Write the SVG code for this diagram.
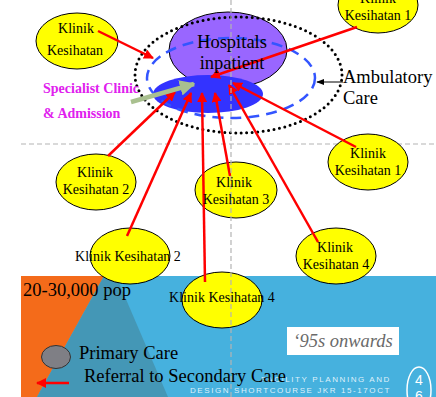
<svg xmlns="http://www.w3.org/2000/svg" width="436" height="397" viewBox="0 0 436 397">
<style>
.serif{font-family:"Liberation Serif","Times New Roman",serif;fill:#000}
.k{font-size:14px;text-anchor:middle}
.big{font-size:18.5px}
.yel{fill:#ffff00;stroke:#000;stroke-width:1}
.red{stroke:#ff0000;stroke-width:2.5;fill:none;marker-end:url(#ra)}
.mag{font-family:"Liberation Serif","Times New Roman",serif;font-weight:bold;font-size:14px;fill:#e020ee}
.foot{font-family:"Liberation Sans",Arial,sans-serif;font-size:8px;fill:#dff0fa;letter-spacing:1.6px}
</style>
<defs>
<marker id="ra" viewBox="0 0 10 10" refX="9" refY="5" markerWidth="4" markerHeight="4" orient="auto" markerUnits="strokeWidth">
<path d="M0,0 L10,5 L0,10 z" fill="#ff0000"/>
</marker>
<marker id="ga" viewBox="0 0 10 10" refX="9" refY="5" markerWidth="3.5" markerHeight="3.5" orient="auto" markerUnits="strokeWidth">
<path d="M0,0 L10,5 L0,10 z" fill="#a9c08f"/>
</marker>
<marker id="ba" viewBox="0 0 10 10" refX="9" refY="5" markerWidth="8" markerHeight="8" orient="auto" markerUnits="strokeWidth">
<path d="M0,1 L10,5 L0,9 z" fill="#000"/>
</marker>
</defs>

<!-- background -->
<rect x="0" y="0" width="436" height="397" fill="#ffffff"/>
<g id="bottom-panel">
<rect x="21" y="276" width="415" height="121" fill="#46b1de"/>
<polygon points="21,276 104,276 37,397 21,397" fill="#f46b1a"/>
<polygon points="104,276 116,276 168,397 37,397" fill="#4497b6"/>
</g>

<line x1="21" y1="144" x2="436" y2="144" stroke="#b4b4b4" stroke-width="1.2" stroke-dasharray="5,3"/>

<g id="hospital">
<ellipse cx="228" cy="50" rx="59" ry="38" fill="#9966ff" stroke="#000" stroke-width="1"/>
</g>
<g id="specialist">
<ellipse cx="208" cy="94" rx="55" ry="19" fill="#3333ff"/>
</g>
<g id="ambulatory">
<ellipse cx="238.5" cy="75" rx="103.5" ry="58" fill="none" stroke="#000" stroke-width="3" stroke-dasharray="0,5.5" stroke-linecap="round"/>
<ellipse cx="231" cy="78" rx="84" ry="40" fill="none" stroke="#3355ff" stroke-width="2.5" stroke-dasharray="11,7"/>
</g>

<g id="k-topleft"><ellipse class="yel" cx="77" cy="41" rx="41" ry="28"/></g>
<g id="k-topright"><ellipse class="yel" cx="378" cy="5" rx="40" ry="28"/></g>
<g id="k1"><ellipse class="yel" cx="368" cy="162" rx="40" ry="28"/></g>
<g id="k2"><ellipse class="yel" cx="96" cy="182" rx="40" ry="28"/></g>
<g id="k3"><ellipse class="yel" cx="236" cy="190" rx="41" ry="28"/></g>
<g id="k4"><ellipse class="yel" cx="336" cy="256" rx="40" ry="28"/></g>
<g id="k2b"><ellipse class="yel" cx="130" cy="256" rx="40" ry="28"/></g>
<g id="k4b"><ellipse class="yel" cx="222" cy="300" rx="40" ry="28"/></g>

<g id="connectors">
<line class="red" x1="98" y1="31" x2="153" y2="58"/>
<line class="red" x1="357" y1="27" x2="211" y2="77"/>
<line class="red" x1="356" y1="147" x2="233" y2="83"/>
<line class="red" x1="318" y1="242" x2="229" y2="85"/>
<line class="red" x1="108" y1="156" x2="175" y2="92"/>
<line class="red" x1="127" y1="236" x2="191" y2="93"/>
<line class="red" x1="205" y1="282" x2="202" y2="93"/>
<line class="red" x1="230" y1="176" x2="215" y2="93"/>
<line x1="131" y1="102" x2="194" y2="84" stroke="#a9c08f" stroke-width="4.5" marker-end="url(#ga)"/>
<line x1="343" y1="82" x2="317" y2="82" stroke="#000" stroke-width="1" marker-end="url(#ba)"/>
<line x1="69" y1="383" x2="37" y2="383" stroke="#ff0000" stroke-width="2.5" marker-end="url(#ra)"/>
</g>

<line x1="231" y1="0" x2="231" y2="397" stroke="#b4b4b4" stroke-width="1.2" stroke-dasharray="5,3"/>

<!-- texts -->
<text class="serif" x="232" y="48" font-size="18.5" text-anchor="middle">Hospitals</text>
<text class="serif" x="232" y="69" font-size="18.5" text-anchor="middle">inpatient</text>
<text class="serif big" x="343" y="83">Ambulatory</text>
<text class="serif big" x="343" y="104">Care</text>
<text class="mag" x="43" y="93">Specialist Clinic</text>
<text class="mag" x="43" y="118">&amp; Admission</text>

<text class="serif k" x="76" y="33">Klinik</text>
<text class="serif k" x="75" y="55">Kesihatan</text>
<text class="serif k" x="378" y="3">Klinik</text>
<text class="serif k" x="378" y="20">Kesihatan 1</text>
<text class="serif k" x="368" y="158">Klinik</text>
<text class="serif k" x="368" y="175">Kesihatan 1</text>
<text class="serif k" x="95" y="177">Klinik</text>
<text class="serif k" x="96" y="194">Kesihatan 2</text>
<text class="serif k" x="234" y="187">Klinik</text>
<text class="serif k" x="236" y="204">Kesihatan 3</text>
<text class="serif k" x="335" y="252">Klinik</text>
<text class="serif k" x="336" y="269">Kesihatan 4</text>
<text class="serif k" x="128" y="261">Klinik Kesihatan 2</text>
<text class="serif k" x="222" y="302">Klinik Kesihatan 4</text>

<text class="serif big" x="23" y="296">20-30,000 pop</text>
<g id="legend-primary"><ellipse cx="56" cy="357" rx="14.5" ry="11.5" fill="#7f7f85" stroke="#333" stroke-width="1"/></g>
<text class="serif big" x="79" y="359">Primary Care</text>

<text class="foot" x="391" y="382" text-anchor="end">FACILITY PLANNING AND</text>
<text class="foot" x="190" y="393" textLength="201">DESIGN SHORTCOURSE JKR 15-17OCT</text>
<text class="serif big" x="84" y="382">Referral to Secondary Care</text>

<g id="note">
<rect x="287" y="327" width="112" height="28" fill="#ffffff"/>
<text class="serif" x="343" y="347" font-size="18.5" font-style="italic" fill="#6a6a6a" style="fill:#6a6a6a" text-anchor="middle">‘95s onwards</text>
</g>
<g id="page">
<ellipse cx="419" cy="390" rx="12" ry="23" fill="none" stroke="#ffffff" stroke-width="1.5"/>
<text x="419" y="385" font-family="Liberation Sans,Arial,sans-serif" font-size="14" fill="#ffffff" text-anchor="middle">4</text>
<text x="419" y="401" font-family="Liberation Sans,Arial,sans-serif" font-size="14" fill="#ffffff" text-anchor="middle">6</text>
</g>
</svg>
